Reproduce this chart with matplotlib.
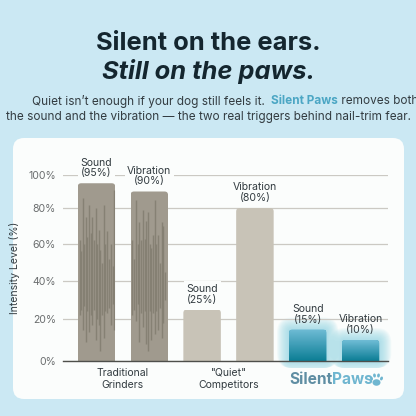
import numpy as np
import matplotlib
matplotlib.use("Agg")
import matplotlib.pyplot as plt
from matplotlib.path import Path
from matplotlib.patches import FancyBboxPatch, Ellipse
from matplotlib.transforms import IdentityTransform
from matplotlib.colors import LinearSegmentedColormap

# ---- data ----
bar_labels = ["Sound", "Vibration", "Sound", "Vibration", "Sound", "Vibration"]
bar_values = [95, 90, 25, 80, 15, 10]
bar_colors = ["#A09A8E", "#A09A8E", "#C8C3B7", "#C8C3B7", "#3E9DB6", "#3E9DB6"]
y_ticks = [0, 20, 40, 60, 80, 100]
y_tick_labels = ["0%", "20%", "40%", "60%", "80%", "100%"]
# the reference's axis is not evenly spaced: pixel height of each tick above the baseline
y_tick_heights = [0, 42, 80, 117, 153, 186]
group_ticks = [0.5, 2.5]
group_labels = ["Traditional\nGrinders", '"Quiet"\nCompetitors']

# waveform strokes inside the two grinder bars: offset in bar widths, top and bottom in %
wave1_pos = [.05, .09, .13, .18, .22, .26, .30, .35, .39, .44, .48, .52, .56, .60, .65, .70, .74, .79, .84, .88, .93, .96]
wave1_top = [62, 56, 86, 60, 75, 64, 82, 66, 75, 62, 80, 60, 68, 57, 50, 82, 60, 67, 52, 60, 48, 91]
wave1_bot = [22, 25, 15, 27, 9, 24, 14, 22, 17, 25, 10, 20, 17, 5, 22, 11, 24, 23, 26, 17, 28, 15]
wave2_pos = [.05, .09, .14, .19, .23, .28, .33, .38, .42, .46, .51, .55, .60, .65, .69, .73, .78, .83, .87, .92]
wave2_top = [62, 52, 85, 60, 72, 62, 79, 63, 73, 78, 60, 58, 65, 85, 60, 65, 50, 72, 70, 45]
wave2_bot = [22, 25, 19, 28, 9, 23, 16, 24, 8, 5, 24, 10, 23, 13, 24, 15, 26, 11, 18, 30]

BG = "#CBE8F3"
CARD = "#FBFDFC"
INK = "#14262F"
TEXT = "#333C41"
W = H = 416
FONT = "Inter"
plt.rcParams["font.family"] = [FONT, "DejaVu Sans"]

fig = plt.figure(figsize=(4.16, 4.16), dpi=100, facecolor=BG)
PX = IdentityTransform()


def px(v):
    return v * 0.72  # pixel size to points at 100 dpi


# card behind the chart
fig.add_artist(FancyBboxPatch((13, H - 399), 391, 261, boxstyle="round,pad=0,rounding_size=11",
                              fc=CARD, ec="none", transform=PX, zorder=-5))

ax = fig.add_axes([63 / W, (H - 361) / H, (388 - 63) / W, (361 - 175) / H])
ax.patch.set_visible(False)
for s in ax.spines.values():
    s.set_visible(False)

ax.set_yscale("function", functions=(
    lambda v: np.interp(v, y_ticks, y_tick_heights),
    lambda h: np.interp(h, y_tick_heights, y_ticks),
))
xlim = (-0.634, 5.52)
ylim = (0, 100)
ax.set_xlim(*xlim)
ax.set_ylim(*ylim)
ax.set_yticks(y_ticks, y_tick_labels)
ax.minorticks_off()
ax.set_xticks(group_ticks, group_labels)
ax.tick_params(axis="y", length=0, pad=5, labelsize=px(10.5), labelcolor="#6A6D6E")
ax.tick_params(axis="x", length=0, pad=5, labelsize=px(10.5), labelcolor=TEXT)
ax.yaxis.grid(True, color="#CBC9C3", lw=0.9, zorder=1)
ax.set_axisbelow(True)
ax.set_ylabel("Intensity Level (%)", fontsize=px(10.5), color=TEXT, labelpad=6)
ax.spines["bottom"].set_visible(True)
ax.spines["bottom"].set_color("#4E4F4B")
ax.spines["bottom"].set_linewidth(1.0)
ax.spines["bottom"].set_zorder(6)

xs = np.arange(len(bar_values))
bars = ax.bar(xs, bar_values, width=0.71, color=bar_colors, zorder=3)


def rounded_top(bar, r=3.5):
    (x0, y0), (x1, y1) = ax.transData.transform(
        [(bar.get_x(), 0), (bar.get_x() + bar.get_width(), bar.get_height())])
    verts = [(x0, y0 - 1), (x0, y1 - r), (x0, y1), (x0 + r, y1), (x1 - r, y1), (x1, y1), (x1, y1 - r),
             (x1, y0 - 1), (x0, y0 - 1)]
    codes = [Path.MOVETO, Path.LINETO, Path.CURVE3, Path.CURVE3, Path.LINETO, Path.CURVE3, Path.CURVE3,
             Path.LINETO, Path.CLOSEPOLY]
    return Path(verts, codes), (x0, y0, x1, y1)


gradient = LinearSegmentedColormap.from_list("paws", ["#6FBCD5", "#3E9DB6", "#0C7E95"])
for i, bar in enumerate(bars):
    path, (x0, y0, x1, y1) = rounded_top(bar)
    bar.set_clip_path(path, PX)
    if i in (0, 1):
        pos, top, bot = (wave1_pos, wave1_top, wave1_bot) if i == 0 else (wave2_pos, wave2_top, wave2_bot)
        x_w = bar.get_x() + np.array(pos) * bar.get_width()
        lc = ax.vlines(x_w, bot, top, color="#827D70", lw=1.05, alpha=0.85, zorder=4)
        lc.set_clip_path(path, PX)
    if i in (4, 5):
        for g in range(12, 0, -1):
            fig.add_artist(FancyBboxPatch((x0 - g, y0 - min(g, 7)), x1 - x0 + 2 * g, y1 - y0 + g + min(g, 7),
                                          boxstyle=f"round,pad=0,rounding_size={3 + g}",
                                          fc="#8FD6E4", ec="none", alpha=0.085, transform=PX, zorder=-4))
        im = ax.imshow(np.linspace(0, 1, 64)[:, None], cmap=gradient, aspect="auto", origin="upper",
                       extent=(x0, x1, y0, y1), transform=PX, zorder=4, interpolation="bilinear")
        im.set_clip_path(path, PX)
ax.set_xlim(*xlim)
ax.set_ylim(*ylim)

for x, name, v in zip(xs, bar_labels, bar_values):
    ax.annotate(f"{name}\n({v}%)", (x, v), xytext=(0, 3.6), textcoords="offset points", ha="center", va="bottom",
                fontsize=px(10.5), color=TEXT, linespacing=1.08, zorder=5,
                bbox=dict(boxstyle="square,pad=0.25", fc=CARD if v > 15 else "none", ec="none"))


def txt(x, y, s, size, color=TEXT, ha="center", **kw):
    return fig.text(x / W, 1 - y / H, s, fontsize=px(size), color=color, ha=ha, va="center", **kw)


txt(208, 44, "Silent on the ears.", 25.5, INK, fontweight="bold")
txt(208, 72, "Still on the paws.", 25.5, INK, fontweight="bold", style="italic")
txt(208, 117, "the sound and the vibration \u2014 the two real triggers behind nail-trim fear.", 11.8)

# first sub-heading line is three runs of different colour, laid out side by side
renderer = fig.canvas.get_renderer()
runs = [("Quiet isn\u2019t enough if your dog still feels it. ", TEXT, "normal"),
        ("Silent Paws", "#4BA6C4", "bold"),
        (" removes both", TEXT, "normal")]
cur = 32.0
for s, c, w in runs:
    t = txt(cur, 101, s, 11.8, c, ha="left", fontweight=w)
    cur += fig.dpi / 72 * 0 + t.get_window_extent(renderer).width + (3.2 if s.endswith(" ") or s.startswith(" ") else 0)

# logo under the third group
logo1 = txt(289, 380, "Silent", 15.5, "#5F8EA3", ha="left", fontweight="bold")
logo2 = txt(289 + logo1.get_window_extent(renderer).width, 380, "Paws", 15.5, "#6FB6D0", ha="left", fontweight="bold")
paw = "#6FB6D0"
for cx, cy, a, b, ang in [(376.5, 382.5, 8, 6.5, 0), (371.5, 378.5, 2.8, 4, 20), (374.5, 375.5, 2.8, 4, 8),
                          (378.5, 375.5, 2.8, 4, -8), (381.5, 378.5, 2.8, 4, -20)]:
    fig.add_artist(Ellipse((cx, H - cy), a, b, angle=ang, fc=paw, ec="none", transform=PX))

fig.savefig("out.png", dpi=100, facecolor=BG)
